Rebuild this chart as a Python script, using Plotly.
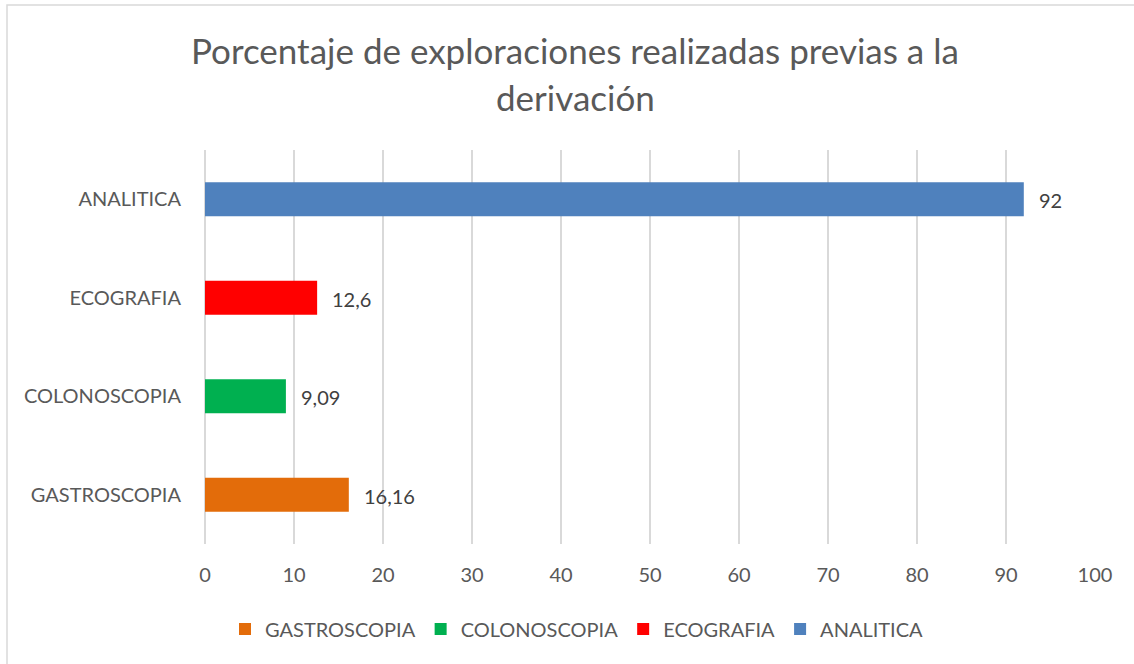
import plotly.graph_objects as go

categories = ["GASTROSCOPIA", "COLONOSCOPIA", "ECOGRAFIA", "ANALITICA"]
values = [16.16, 9.09, 12.6, 92]
value_labels = ["16,16", "9,09", "12,6", "92"]
colors = ["#E36C0A", "#00B050", "#FF0000", "#4F81BD"]
x_ticks = [0, 10, 20, 30, 40, 50, 60, 70, 80, 90, 100]

FONT = "Lato"
fig = go.Figure()
for cat, val, col in zip(categories, values, colors):
    fig.add_trace(go.Bar(
        y=[cat], x=[val], name=cat, orientation="h",
        marker=dict(color=col, line=dict(width=0)),
        width=0.345, hoverinfo="x+y",
    ))

for cat, val, lab in zip(categories, values, value_labels):
    fig.add_annotation(x=val, y=cat, text=lab, showarrow=False,
                       xanchor="left", xshift=13, yshift=-1,
                       font=dict(family=FONT, size=20, color="#404040"))

fig.add_annotation(xref="paper", yref="paper", x=(575 - 205) / 890, y=(544 - 50) / 394,
                   text="Porcentaje de exploraciones realizadas previas a la",
                   showarrow=False, xanchor="center", yanchor="middle",
                   font=dict(family=FONT, size=35, color="#595959"))
fig.add_annotation(xref="paper", yref="paper", x=(575 - 205) / 890, y=(544 - 97) / 394,
                   text="derivación",
                   showarrow=False, xanchor="center", yanchor="middle",
                   font=dict(family=FONT, size=35, color="#595959"))

# chart border (top and left visible)
fig.add_shape(type="rect", xref="paper", yref="paper",
              x0=(7 - 205) / 890, x1=(1200 - 205) / 890,
              y0=(544 - 700) / 394, y1=(544 - 5) / 394,
              line=dict(color="#D9D9D9", width=1.5), fillcolor="rgba(0,0,0,0)", layer="below")

fig.update_layout(
    width=1134, height=664,
    margin=dict(l=205, r=39, t=150, b=120),
    paper_bgcolor="white", plot_bgcolor="white",
    barmode="overlay",
    showlegend=True,
    legend=dict(orientation="h", x=(577 - 205) / 890, xanchor="center",
                y=(544 - 629) / 394, yanchor="middle",
                font=dict(family=FONT, size=20, color="#595959"),
                itemwidth=30, traceorder="normal"),
    xaxis=dict(range=[0, 100], tickvals=x_ticks, showgrid=True, gridcolor="#D9D9D9",
               gridwidth=1.5, zeroline=True, zerolinecolor="#D9D9D9", zerolinewidth=1.5,
               showline=False, ticks="", ticklabelstandoff=17,
               tickfont=dict(family=FONT, size=20, color="#595959"), fixedrange=True),
    yaxis=dict(categoryorder="array", categoryarray=categories, showgrid=False,
               zeroline=False, showline=False, ticks="", ticklabelstandoff=23,
               tickfont=dict(family=FONT, size=20, color="#595959"), fixedrange=True),
    font=dict(family=FONT),
)

fig.write_html("out.html", config={"displayModeBar": False},
               post_script="document.body.style.margin='0px';")
